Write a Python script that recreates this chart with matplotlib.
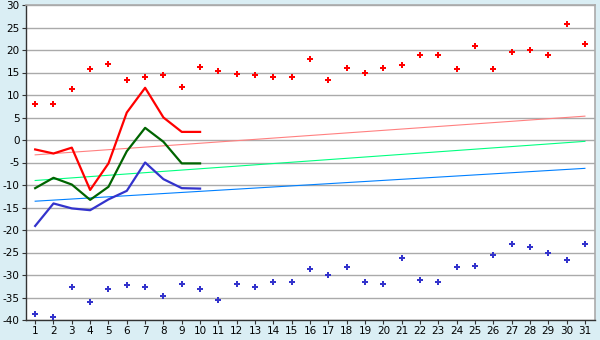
import numpy as np
import matplotlib
matplotlib.use('Agg')
import matplotlib.pyplot as plt

plt.rcParams['axes.unicode_minus'] = False

days = list(range(1, 32))

# daily max / min points
max_pts = [7.9, 7.9, 11.3, 15.7, 16.9, 13.3, 13.9, 14.4, 11.7, 16.2,
           15.3, 14.6, 14.4, 13.9, 14.1, 17.9, 13.3, 15.9, 15.0, 15.9,
           16.6, 19.0, 19.0, 15.7, 21.0, 15.7, 19.5, 19.9, 19.0, 25.7, 21.3]
min_pts = [-38.7, -39.4, -32.7, -36.1, -33.0, -32.3, -32.7, -34.7, -32.1, -33.2,
           -35.6, -32.1, -32.7, -31.6, -31.6, -28.7, -30.1, -28.3, -31.6, -32.1,
           -26.3, -31.0, -31.6, -28.3, -27.9, -25.6, -23.2, -23.8, -25.0, -26.7, -23.0]

# lines for the first ten days
line_days = list(range(1, 11))
red_line = [-2.1, -3.0, -1.7, -11.1, -5.2, 6.1, 11.6, 5.0, 1.8, 1.8]
green_line = [-10.7, -8.4, -9.9, -13.3, -10.4, -2.5, 2.7, -0.4, -5.2, -5.2]
blue_line = [-19.1, -14.1, -15.2, -15.6, -13.2, -11.3, -5.0, -8.7, -10.7, -10.8]

# trend lines (start / end)
trend_days = [1, 31]
trend_red = [-3.3, 5.3]
trend_green = [-9.0, -0.3]
trend_blue = [-13.6, -6.3]

bg = '#daeef4'
fig = plt.figure(figsize=(6, 3.4), dpi=100, facecolor=bg)
ax = fig.add_axes([26/600, 1-320/340, 569/600, 315/340])
ax.set_facecolor('white')

ax.plot(trend_days, trend_red, color='#ff8080', lw=0.8, zorder=2)
ax.plot(trend_days, trend_green, color='#00ff80', lw=0.8, zorder=2)
ax.plot(trend_days, trend_blue, color='#0080ff', lw=0.8, zorder=2)

ax.plot(line_days, red_line, color='#ff0000', lw=1.6, zorder=3)
ax.plot(line_days, green_line, color='#006400', lw=1.6, zorder=3)
ax.plot(line_days, blue_line, color='#3333cc', lw=1.6, zorder=3)

ax.plot(days, max_pts, 'P', color='#ff0000', ms=5, mew=0, ls='none', zorder=4)
ax.plot(days, min_pts, 'P', color='#3333cc', ms=5, mew=0, ls='none', zorder=4)

ax.set_xlim(0.5, 31.55)
ax.set_ylim(-40, 30)
ax.set_xticks(days)
ax.set_yticks(range(-40, 31, 5))
ax.yaxis.grid(True, color='#aaaaaa', lw=1)
ax.set_axisbelow(True)

for s in ['top', 'right']:
    ax.spines[s].set_color('#aaaaaa')
    ax.spines[s].set_linewidth(1.2)
for s in ['left', 'bottom']:
    ax.spines[s].set_color('#333333')
    ax.spines[s].set_linewidth(1)

ax.tick_params(axis='both', labelsize=7.5, length=3, width=0.8, color='#333333', pad=1.5)

fig.savefig('out.png', dpi=100, facecolor=bg)
